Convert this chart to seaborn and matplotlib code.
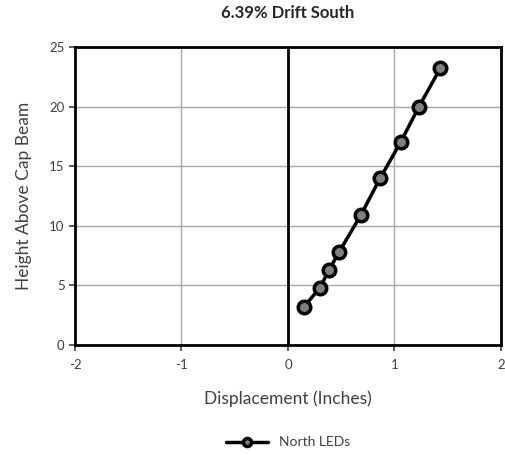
import numpy as np
import pandas as pd
import matplotlib
matplotlib.use("Agg")
import matplotlib.pyplot as plt
import seaborn as sns

# data
disp_in = [0.15, 0.30, 0.386, 0.48, 0.684, 0.866, 1.06, 1.23, 1.43]
height = [3.2, 4.8, 6.3, 7.8, 10.9, 14.0, 17.05, 20.0, 23.2]
series_name = "North LEDs"
x_ticks = [-2, -1, 0, 1, 2]
y_ticks = [0, 5, 10, 15, 20, 25]

sns.set_theme(style="whitegrid")
plt.rcParams['font.family'] = ['Lato', 'DejaVu Sans']
plt.rcParams['axes.unicode_minus'] = False

df = pd.DataFrame({"x": disp_in, "y": height, "s": series_name})

fig = plt.figure(figsize=(5.05, 4.55), dpi=100)
ax = fig.add_axes([0.1485, 0.2418, 0.8435, 0.6549])

ax.axvline(0, color="black", lw=2, zorder=1)
sns.lineplot(data=df, x="x", y="y", hue="s", palette=["black"], sort=False,
             marker="o", markersize=9, markerfacecolor="#7f7f7f",
             markeredgecolor="black", markeredgewidth=2.5, lw=2.5, ax=ax, zorder=3)

ax.set_xlim(-2, 2)
ax.set_ylim(0, 25)
ax.set_xticks(x_ticks)
ax.set_yticks(y_ticks)
ax.tick_params(labelsize=9.5, colors="#404040", length=4, width=1.2, direction="out",
               bottom=True, left=True)
ax.tick_params(axis="x", pad=6)
ax.grid(True, color="#a6a6a6", lw=1)
for sp in ax.spines.values():
    sp.set_visible(True)
    sp.set_color("black")
    sp.set_linewidth(2)

ax.set_xlabel("Displacement (Inches)", fontsize=12.5, color="#404040", labelpad=14)
ax.set_ylabel("Height Above Cap Beam", fontsize=12.5, color="#404040", labelpad=12)
ax.set_title("6.39% Drift South", fontsize=12, fontweight="bold", color="#262626", pad=21)

leg = ax.legend(loc="upper center", bbox_to_anchor=(0.5, -0.265), frameon=False,
                fontsize=10, handlelength=3, markerscale=0.65)
for t in leg.get_texts():
    t.set_color("#404040")

fig.savefig("out.png", dpi=100)
